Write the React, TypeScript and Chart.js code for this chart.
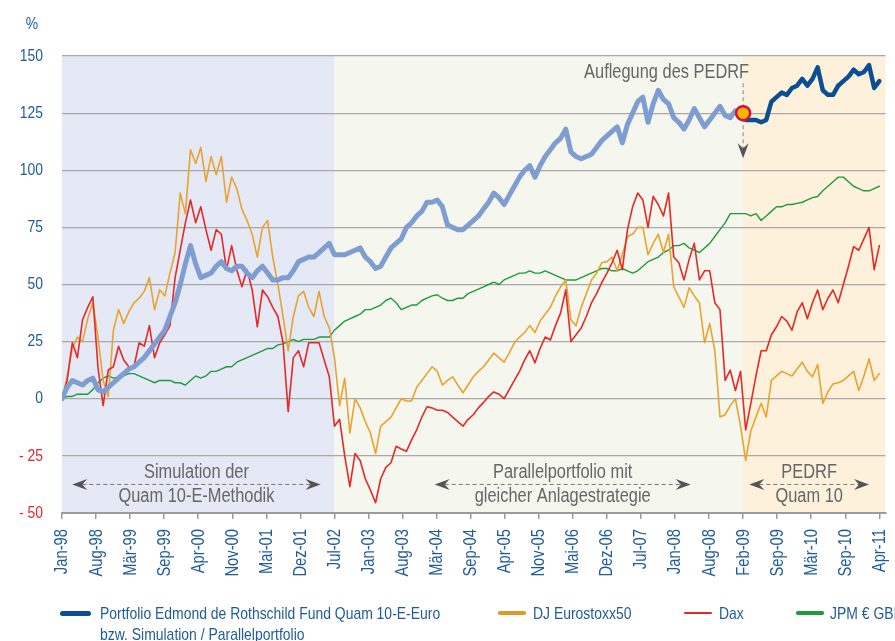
import React, { useEffect, useRef } from 'react';
import { Chart, registerables } from 'chart.js';

Chart.register(...registerables);

// ---------- data ----------
const tickLabels = ['Jan-98', 'Aug-98', 'Mär-99', 'Sep-99', 'Apr-00', 'Nov-00', 'Mai-01', 'Dez-01', 'Jul-02', 'Jan-03', 'Aug-03', 'Mär-04', 'Sep-04', 'Apr-05', 'Nov-05', 'Mai-06', 'Dez-06', 'Jul-07', 'Jan-08', 'Aug-08', 'Feb-09', 'Sep-09', 'Mär-10', 'Sep-10', 'Apr-11'];
const lastMonth = 159; // months since Jan-98 for Apr-11
const yTickValues = [-50, -25, 0, 25, 50, 75, 100, 125, 150];

// monthly values, index = months since Jan-98 (in %)
const portfolio = [
  0, 5, 8, 7, 6, 8, 9, 4, 3, 5, 7, 9, 11, 13, 14, 16, 18, 21, 24, 27,
  30, 36, 42, 50, 59, 67, 59, 53, 54, 55, 58, 60, 57, 56, 58, 58, 55, 53, 56, 58,
  55, 52, 52, 53, 53, 56, 60, 61, 62, 62, 64, 66, 68, 63, 63, 63, 64, 65, 66, 62,
  60, 57, 58, 62, 66, 68, 70, 75, 77, 80, 82, 86, 86, 87, 84, 76, 75, 74, 74, 76,
  78, 80, 83, 86, 90, 88, 85, 89, 93, 97, 100, 102, 97, 102, 106, 109, 112, 114, 118, 108,
  106, 105, 106, 107, 110, 113, 115, 117, 119, 112, 120, 125, 130, 132, 121, 129, 135, 131, 129, 123,
  121, 118, 122, 127, 123, 119, 122, 125, 128, 124, 123, 126, 125, 122, 122, 122, 121, 122, 130, 132,
  134, 133, 136, 137, 140, 137, 140, 145, 135, 133, 133, 137, 139, 141, 144, 142, 143, 146, 136, 139,
];
const eurostoxx = [
  0, 9.6, 22, 27, 25, 35, 42, 27, 8, 1, 30, 39, 33, 38, 42, 44, 47, 53, 39, 47.7,
  45, 55, 64, 90, 81, 109, 103, 110, 95, 106, 98, 106, 86, 97, 92, 83, 78, 72, 62, 75,
  78, 62, 50, 36, 21, 36, 45, 47, 40, 36, 47, 36, 31, 18, -3, 9, -15, 0, -4, -10,
  -15, -24, -12, -10, -8, -4, 0, -1, -1, 5, 8, 11, 14, 12, 6, 8, 9.6, 6, 2.6, 6,
  9.6, 12, 14, 17, 20, 18, 16, 20, 24.5, 27, 29, 32, 29, 34, 37, 40, 45, 49, 52, 34.6,
  32, 40, 46, 52, 55, 59.5, 60, 62, 56, 63, 71, 72, 75, 75, 63, 68, 72, 64, 72, 49,
  44.6, 40, 48.6, 45, 42, 24.5, 33, 21, -8, -7, -3, 0, -12, -27, -14, -8, -2, -8, 8, 10,
  12, 11, 10, 13, 16, 12, 9.6, 15, -2, 3, 6.5, 7, 8, 10, 12, 3.6, 10, 17.5, 8, 11,
];
const dax = [
  0, 8, 24.5, 18, 34.6, 40, 44.6, 13.6, -3, 12.6, 14, 23, 17, 14, 14, 24.5, 23, 32, 18, 24.5,
  28, 32, 53, 65, 77, 87, 77, 84, 74, 65, 74, 72, 56.5, 67, 56.5, 49, 56.5, 47.6, 31.5, 47.6,
  44.6, 40, 36, 24.5, -5.7, 18, 21, 14, 24.5, 24.5, 24.5, 17, 9.6, -12, -9, -25, -38.5, -24, -27, -35,
  -40, -45.5, -35, -30, -28, -20.8, -22, -23, -18, -13.6, -8, -3.5, -4, -5, -5, -6, -8, -10, -12, -9,
  -7, -4, -1.6, 1, 3, 2, 0, 4, 8, 12, 17, 21, 15.7, 22, 27, 25.7, 32, 37.6, 47.7, 25,
  28, 31, 36, 42, 46, 50.8, 55, 59.5, 65, 56.5, 74, 84, 90, 87, 75, 88.6, 85, 80, 90, 62,
  59.5, 52, 61, 68, 52, 56, 56, 42, 39, 8, 12.5, 3.6, 12, -13.6, -2, 10, 21, 21, 28, 31.5,
  36, 34, 30, 38, 42, 35, 42, 47.6, 39, 44, 47.6, 42, 50, 58, 66.6, 65, 70, 75, 56.5, 67,
];
const jpm = [
  0, 1, 1, 2, 2, 2, 4, 7, 9, 10, 9, 9.5, 10, 11, 11, 10, 9, 8, 7, 8,
  8, 8, 7, 7, 6, 8, 10, 9, 10, 12, 12, 13, 14, 14, 16, 17, 18, 19, 20, 21,
  22, 22, 23.6, 24, 25, 26, 25, 26, 26, 26, 27, 27, 27, 30, 32, 34, 35, 36, 37, 39,
  39, 40, 41, 43, 44, 42, 39, 40, 41, 41, 43, 44, 45, 45.5, 44, 43, 43, 44, 44, 46,
  47, 48, 49, 50, 51, 50, 52, 53, 54, 55, 55, 56, 55, 55, 56, 55, 54, 53, 52, 52,
  52, 53, 54, 55, 56, 57, 57, 56, 56, 57, 56, 55, 56, 58, 60, 61, 62, 64, 65, 67,
  67, 68, 66, 65, 64, 66, 68, 71, 74, 77, 81, 81, 81, 81, 80, 81, 78, 80, 82, 84,
  84, 85, 85, 85.5, 86, 87, 88, 88.5, 91, 93, 95, 97, 97, 95, 93, 92, 91, 91, 92, 93,
];

const simulationEnd = 53; // start of parallel portfolio (months)
const launchMonth = 132.5; // PEDRF launch
const launchValue = 125;

const phaseLabels = [
  ['Simulation der', 'Quam 10-E-Methodik'],
  ['Parallelportfolio mit', 'gleicher Anlagestrategie'],
  ['PEDRF', 'Quam 10'],
];
const phaseArrowFrom = [2, 72.5, 133.7];
const phaseArrowTo = [50.3, 122.3, 157.0];
const phaseArrowLevel = -37.5;
const launchText = 'Auflegung des PEDRF';
const unitLabel = '%';

const legendNames = ['Portfolio Edmond de Rothschild Fund Quam 10-E-Euro', 'DJ Eurostoxx50', 'Dax', 'JPM € GBI'];
const legendSub = 'bzw. Simulation / Parallelportfolio';

// ---------- style ----------
const FONT = "'Liberation Sans', Arial, sans-serif";
const NARROW = 0.82; // horizontal squeeze to imitate a condensed face
const BLUE_TEXT = '#1f5b9b';
const RED_TEXT = '#e3262d';
const GRAY_TEXT = '#666666';
const C_SIM = '#7f9dd1';
const C_PEDRF = '#0c4e94';
const C_STOXX = '#e8a330';
const C_DAX = '#e42a28';
const C_JPM = '#1f9a3c';

const pts = (arr: number[], from: number, to: number) => {
  const out: { x: number; y: number }[] = [];
  for (let i = from; i <= to && i < arr.length; i++) out.push({ x: i, y: arr[i] });
  return out;
};

function narrowText(ctx: CanvasRenderingContext2D, text: string, x: number, y: number, rotate = 0) {
  ctx.save();
  ctx.translate(x, y);
  if (rotate) ctx.rotate(rotate);
  ctx.scale(NARROW, 1);
  ctx.fillText(text, 0, 0);
  ctx.restore();
}

function arrowHead(ctx: CanvasRenderingContext2D, tx: number, ty: number, dx: number, dy: number) {
  const len = 15, half = 5.5, notch = 10;
  const px = -dy, py = dx;
  ctx.beginPath();
  ctx.moveTo(tx, ty);
  ctx.lineTo(tx - dx * len + px * half, ty - dy * len + py * half);
  ctx.lineTo(tx - dx * notch, ty - dy * notch);
  ctx.lineTo(tx - dx * len - px * half, ty - dy * len - py * half);
  ctx.closePath();
  ctx.fill();
}

const annotationPlugin = {
  id: 'annotations',
  beforeDraw(chart: any) {
    const { ctx, chartArea: a, scales } = chart;
    const x = scales.x;
    const x1 = x.getPixelForValue(simulationEnd);
    const x2 = x.getPixelForValue(launchMonth);
    ctx.save();
    ctx.fillStyle = '#e4e9f5';
    ctx.fillRect(a.left, a.top, x1 - a.left, a.bottom - a.top);
    ctx.fillStyle = '#f5f6ee';
    ctx.fillRect(x1, a.top, x2 - x1, a.bottom - a.top);
    ctx.fillStyle = '#fdf1dc';
    ctx.fillRect(x2, a.top, a.right - x2, a.bottom - a.top);
    ctx.restore();
  },
  beforeDatasetsDraw(chart: any) {
    const { ctx, scales } = chart;
    const x = scales.x, y = scales.y;
    const lx = x.getPixelForValue(launchMonth);
    const ly = y.getPixelForValue(launchValue);
    ctx.save();
    ctx.strokeStyle = '#9a9a9a';
    ctx.lineWidth = 1.2;
    ctx.setLineDash([4, 3]);
    ctx.beginPath();
    ctx.moveTo(lx, ly - 30);
    ctx.lineTo(lx, ly + 38);
    ctx.stroke();
    ctx.setLineDash([]);
    ctx.fillStyle = '#555555';
    arrowHead(ctx, lx, ly + 45, 0, 1);
    ctx.restore();
  },
  afterDatasetsDraw(chart: any) {
    const { ctx, scales, chartArea: a } = chart;
    const x = scales.x, y = scales.y;
    ctx.save();
    // phase arrows and labels
    const ay = y.getPixelForValue(phaseArrowLevel);
    phaseLabels.forEach((lines, i) => {
      const xa = x.getPixelForValue(phaseArrowFrom[i]);
      const xb = x.getPixelForValue(phaseArrowTo[i]);
      ctx.strokeStyle = '#777777';
      ctx.lineWidth = 1;
      ctx.setLineDash([4, 3]);
      ctx.beginPath();
      ctx.moveTo(xa + 10, ay);
      ctx.lineTo(xb - 10, ay);
      ctx.stroke();
      ctx.setLineDash([]);
      ctx.fillStyle = '#555555';
      arrowHead(ctx, xa, ay, -1, 0);
      arrowHead(ctx, xb, ay, 1, 0);
      const cx = (xa + xb) / 2;
      ctx.fillStyle = GRAY_TEXT;
      ctx.font = `20px ${FONT}`;
      ctx.textAlign = 'center';
      ctx.textBaseline = 'middle';
      narrowText(ctx, lines[0], cx, ay - 12);
      narrowText(ctx, lines[1], cx, ay + 12);
    });
    // launch text
    const lx = x.getPixelForValue(launchMonth);
    const ly = y.getPixelForValue(launchValue);
    ctx.fillStyle = GRAY_TEXT;
    ctx.font = `20px ${FONT}`;
    ctx.textAlign = 'right';
    ctx.textBaseline = 'middle';
    narrowText(ctx, launchText, lx + 6, ly - 41);

    // y tick labels
    ctx.font = `17px ${FONT}`;
    ctx.textAlign = 'right';
    ctx.textBaseline = 'middle';
    yTickValues.forEach((v) => {
      ctx.fillStyle = v < 0 ? RED_TEXT : BLUE_TEXT;
      const label = v < 0 ? '- ' + Math.abs(v) : String(v);
      narrowText(ctx, label, a.left - 19, y.getPixelForValue(v));
    });
    // x tick labels (rotated)
    ctx.fillStyle = BLUE_TEXT;
    ctx.font = `18px ${FONT}`;
    ctx.textAlign = 'right';
    ctx.textBaseline = 'middle';
    tickLabels.forEach((t, i) => {
      const px = x.getPixelForValue((i * lastMonth) / (tickLabels.length - 1));
      narrowText(ctx, t, px + 0.5, a.bottom + 16, -Math.PI / 2);
    });
    // unit
    ctx.font = `17px ${FONT}`;
    ctx.textAlign = 'center';
    narrowText(ctx, unitLabel, 32, 24);
    ctx.restore();
  },
};

export default function App() {
  const canvasRef = useRef<HTMLCanvasElement | null>(null);

  useEffect(() => {
    if (!canvasRef.current) return;
    const launchPoint = [{ x: launchMonth, y: launchValue }];
    const simData = [...pts(portfolio, 0, 132), ...launchPoint];
    const pedrfData = [...launchPoint, ...pts(portfolio, 133, lastMonth)];
    const lineBase = { pointRadius: 0, tension: 0, borderJoinStyle: 'round', borderCapStyle: 'round', fill: false };

    const chart = new Chart(canvasRef.current, {
      type: 'line',
      data: {
        datasets: [
          {
            label: 'launch',
            data: launchPoint,
            showLine: false,
            pointRadius: 7,
            pointBackgroundColor: '#f8b400',
            pointBorderColor: '#d2103c',
            pointBorderWidth: 2.5,
          },
          { ...lineBase, label: legendNames[0], data: pedrfData, borderColor: C_PEDRF, borderWidth: 4.5 },
          { ...lineBase, label: 'Simulation', data: simData, borderColor: C_SIM, borderWidth: 5 },
          { ...lineBase, label: legendNames[2], data: pts(dax, 0, lastMonth), borderColor: C_DAX, borderWidth: 1.6 },
          { ...lineBase, label: legendNames[1], data: pts(eurostoxx, 0, lastMonth), borderColor: C_STOXX, borderWidth: 1.6 },
          { ...lineBase, label: legendNames[3], data: pts(jpm, 0, lastMonth), borderColor: C_JPM, borderWidth: 1.4 },
        ] as any,
      },
      options: {
        animation: false,
        responsive: false,
        maintainAspectRatio: false,
        layout: { padding: { top: 56, right: 5, left: 0, bottom: 0 } },
        plugins: { legend: { display: false }, tooltip: { enabled: false } },
        scales: {
          x: {
            type: 'linear',
            min: 0,
            max: 160.2,
            afterBuildTicks: (s: any) => {
              s.ticks = tickLabels.map((_, i) => ({ value: (i * lastMonth) / (tickLabels.length - 1) }));
            },
            afterFit: (s: any) => {
              s.height = 128;
            },
            grid: { drawOnChartArea: false, drawTicks: true, tickLength: 6, color: '#9b9b9b', lineWidth: 1.5 },
            border: { display: true, color: '#9b9b9b', width: 2 },
            ticks: { display: false, autoSkip: false },
          },
          y: {
            min: -50,
            max: 150,
            afterBuildTicks: (s: any) => {
              s.ticks = yTickValues.map((v) => ({ value: v }));
            },
            afterFit: (s: any) => {
              s.width = 62;
            },
            grid: { color: '#a9a9a9', lineWidth: 1.2, drawTicks: false },
            border: { display: false },
            ticks: { display: false },
          },
        },
      } as any,
      plugins: [annotationPlugin],
    });
    return () => chart.destroy();
  }, []);

  const legendText: React.CSSProperties = {
    position: 'absolute',
    fontFamily: FONT,
    fontSize: 17,
    lineHeight: '21px',
    color: BLUE_TEXT,
    whiteSpace: 'nowrap',
    transform: `scaleX(${NARROW})`,
    transformOrigin: '0 0',
  };
  const swatch = (left: number, width: number, color: string, h: number): React.CSSProperties => ({
    position: 'absolute',
    left,
    top: 613 - h / 2,
    width,
    height: h,
    background: color,
    borderRadius: h / 2,
  });

  return (
    <div style={{ position: 'fixed', left: 0, top: 0, width: 895, height: 641, overflow: 'hidden', background: '#fff' }}>
      <canvas ref={canvasRef} width={895} height={641} style={{ position: 'absolute', left: 0, top: 0, width: 895, height: 641 }} />
      <div style={swatch(60, 31, C_PEDRF, 5)} />
      <div style={{ ...legendText, left: 100, top: 603 }}>
        {legendNames[0]}
        <br />
        {legendSub}
      </div>
      <div style={swatch(498, 28, '#dc9c2c', 3.5)} />
      <div style={{ ...legendText, left: 533, top: 603 }}>{legendNames[1]}</div>
      <div style={swatch(684, 28, C_DAX, 2.5)} />
      <div style={{ ...legendText, left: 719, top: 603 }}>{legendNames[2]}</div>
      <div style={swatch(796, 28, C_JPM, 3.5)} />
      <div style={{ ...legendText, left: 830, top: 603 }}>{legendNames[3]}</div>
    </div>
  );
}
